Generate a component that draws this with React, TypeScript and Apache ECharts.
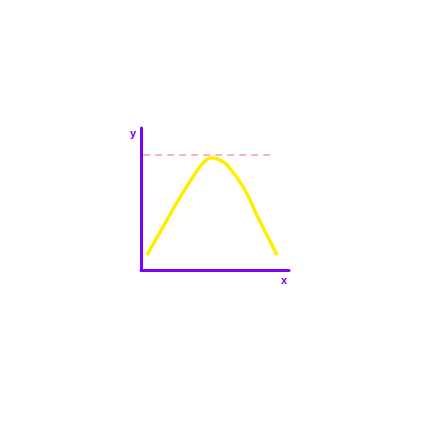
import React, { useEffect, useRef } from "react";
import * as echarts from "echarts";

const curveX = [0.4, 1.5, 2.6, 3.8, 4.3, 4.8, 5.3, 5.8, 6.9, 8.0, 9.2];
const curveY = [1.05, 3.05, 5.05, 7.0, 7.65, 7.9, 7.75, 7.4, 5.85, 3.5, 1.05];
const refLineX = [0.15, 8.85];
const refLineY = [8.1, 8.1];

export default function App() {
  const ref = useRef<HTMLDivElement>(null);
  useEffect(() => {
    const chart = echarts.init(ref.current!, null, { renderer: "svg" });
    const purple = "#7f00f4";
    const axisCommon = {
      type: "value",
      min: 0,
      max: 10,
      axisLine: { show: true, lineStyle: { color: purple, width: 3 } },
      axisTick: { show: false },
      axisLabel: { show: false },
      splitLine: { show: false },
    };
    chart.setOption({
      animation: false,
      grid: { left: 133, top: 120, width: 148, height: 142, containLabel: false },
      xAxis: { ...axisCommon },
      yAxis: { ...axisCommon },
      graphic: [
        {
          type: "text",
          left: 122,
          top: 119,
          style: { text: "y", fill: purple, font: "bold 11px sans-serif" },
        },
        {
          type: "text",
          left: 273,
          top: 266,
          style: { text: "x", fill: purple, font: "bold 11px sans-serif" },
        },
      ],
      series: [
        {
          type: "line",
          data: curveX.map((x, i) => [x, curveY[i]]),
          smooth: 0.5,
          showSymbol: false,
          lineStyle: { color: "#ffee00", width: 3.5 },
        },
        {
          type: "line",
          data: refLineX.map((x, i) => [x, refLineY[i]]),
          showSymbol: false,
          lineStyle: { color: "#f7a0a0", width: 1.3, type: [7, 5] },
        },
      ],
    });
    return () => chart.dispose();
  }, []);
  return <div ref={ref} style={{ width: 416, height: 416 }} />;
}
